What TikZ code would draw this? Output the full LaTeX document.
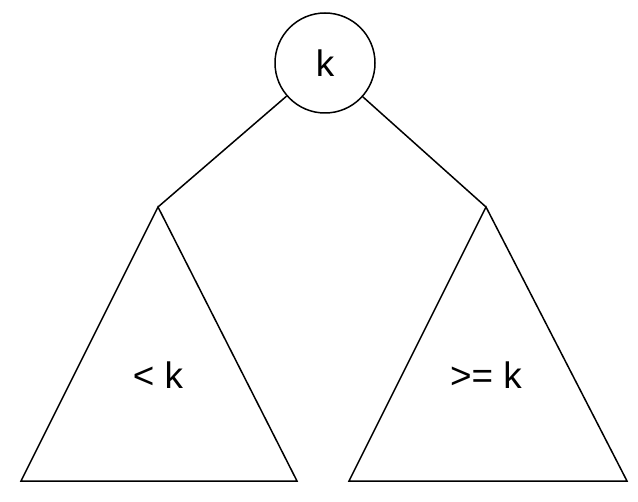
\documentclass[tikz,border=0pt]{standalone}
\usepackage{fontspec}
\setmainfont{Liberation Sans}
\usetikzlibrary{calc}

\begin{document}
\begin{tikzpicture}[x=1bp,y=-1bp,line width=1.5bp]
\tikzset{keynode/.style={circle,draw,minimum size=100bp,inner sep=0pt,font=\fontsize{37}{44}\selectfont},
  treelabel/.style={anchor=base,inner sep=0pt,font=\fontsize{37}{44}\selectfont},
  subtree/.style={draw,line join=miter}}
\useasboundingbox (0,0) rectangle (638,502);

\node[keynode] (root) at (325,63) {k};

\coordinate (LA) at (158,207);
\coordinate (LB) at (21,481);
\coordinate (LC) at (297,481);
\coordinate (RA) at (486,207);
\coordinate (RB) at (349,481);
\coordinate (RC) at (627,481);

\draw[subtree] (LA) -- (LB) -- (LC) -- cycle;
\draw[subtree] (RA) -- (RB) -- (RC) -- cycle;

\draw (root) -- (LA);
\draw (root) -- (RA);

\node[treelabel] (less) at (158,388) {< k};
\node[treelabel] (geq) at (486,388) {>= k};

\end{tikzpicture}
\end{document}
